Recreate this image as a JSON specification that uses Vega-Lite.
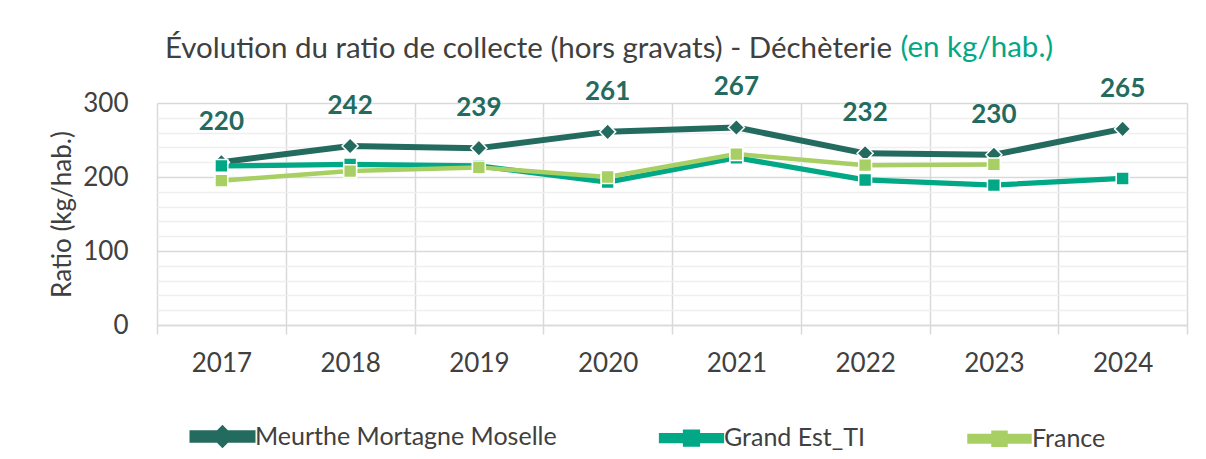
{
  "$schema": "https://vega.github.io/schema/vega-lite/v6.json",
  "autosize": "none",
  "padding": {"left": 157, "top": 103, "right": 19, "bottom": 134},
  "width": 1030,
  "height": 222,
  "background": "white",
  "config": {"view": {"stroke": null}, "font": "Lato"},
  "title": {
    "text": "Évolution du ratio de collecte (hors gravats) - Déchèterie",
    "anchor": "end",
    "frame": "group",
    "dx": -295,
    "offset": -46,
    "baseline": "middle",
    "font": "Lato",
    "fontSize": 29.5,
    "fontWeight": "normal",
    "color": "#404040"
  },
  "data": {
    "values": [
      {"year": "2017", "series": "Meurthe Mortagne Moselle", "value": 220},
      {"year": "2018", "series": "Meurthe Mortagne Moselle", "value": 242},
      {"year": "2019", "series": "Meurthe Mortagne Moselle", "value": 239},
      {"year": "2020", "series": "Meurthe Mortagne Moselle", "value": 261},
      {"year": "2021", "series": "Meurthe Mortagne Moselle", "value": 267},
      {"year": "2022", "series": "Meurthe Mortagne Moselle", "value": 232},
      {"year": "2023", "series": "Meurthe Mortagne Moselle", "value": 230},
      {"year": "2024", "series": "Meurthe Mortagne Moselle", "value": 265},
      {"year": "2017", "series": "Grand Est_TI", "value": 215},
      {"year": "2018", "series": "Grand Est_TI", "value": 217},
      {"year": "2019", "series": "Grand Est_TI", "value": 215},
      {"year": "2020", "series": "Grand Est_TI", "value": 193},
      {"year": "2021", "series": "Grand Est_TI", "value": 226},
      {"year": "2022", "series": "Grand Est_TI", "value": 196},
      {"year": "2023", "series": "Grand Est_TI", "value": 189},
      {"year": "2024", "series": "Grand Est_TI", "value": 198},
      {"year": "2017", "series": "France", "value": 195},
      {"year": "2018", "series": "France", "value": 208},
      {"year": "2019", "series": "France", "value": 213},
      {"year": "2020", "series": "France", "value": 200},
      {"year": "2021", "series": "France", "value": 231},
      {"year": "2022", "series": "France", "value": 216},
      {"year": "2023", "series": "France", "value": 217}
    ]
  },
  "resolve": {"axis": {"x": "independent"}},
  "encoding": {
    "y": {
      "field": "value", "type": "quantitative",
      "scale": {"domain": [0, 300], "nice": false, "zero": true},
      "axis": {
        "title": "Ratio (kg/hab.)", "titleFont": "Lato", "titleFontSize": 26, "titleFontWeight": "normal", "titleColor": "#404040", "titlePadding": 7,
        "values": [0, 20, 40, 60, 80, 100, 120, 140, 160, 180, 200, 220, 240, 260, 280, 300],
        "labelExpr": "datum.value % 100 === 0 ? datum.label : ''",
        "labelFont": "Lato", "labelFontSize": 26, "labelColor": "#404040", "labelPadding": 29,
        "ticks": false, "domain": false,
        "grid": true, "gridWidth": 1.5,
        "gridColor": {"condition": {"test": "datum.value % 100 === 0", "value": "#d9d9d9"}, "value": "#efefef"}
      }
    }
  },
  "layer": [
    {
      "mark": {"type": "line", "strokeCap": "butt", "strokeJoin": "round"},
      "encoding": {
        "x": {
          "field": "year", "type": "ordinal",
          "scale": {"type": "band", "paddingInner": 0, "paddingOuter": 0},
          "axis": {
            "title": null, "labelAngle": 0, "labelFont": "Lato", "labelFontSize": 26, "labelColor": "#404040",
            "tickBand": "extent", "grid": true, "gridColor": "#d9d9d9", "gridWidth": 1.5,
            "domainColor": "#d9d9d9", "domainWidth": 1.5, "tickColor": "#d9d9d9", "tickWidth": 1.5, "tickSize": 9,
            "labelPadding": 16
          }
        },
        "color": {
          "field": "series", "type": "nominal",
          "scale": {"domain": ["Meurthe Mortagne Moselle", "Grand Est_TI", "France"], "range": ["#236B5F", "#00A886", "#A8CF63"]}
        },
        "strokeWidth": {
          "field": "series", "type": "nominal",
          "scale": {"domain": ["Meurthe Mortagne Moselle", "Grand Est_TI", "France"], "range": [6, 4.5, 5]},
          "legend": null
        }
      }
    },
    {
      "transform": [{"filter": "datum.series === 'Meurthe Mortagne Moselle'"}],
      "mark": {"type": "point", "shape": "diamond", "size": 260, "filled": true, "opacity": 1, "stroke": "white", "strokeWidth": 1.5},
      "encoding": {
        "x": {"field": "year", "type": "ordinal", "scale": {"type": "band", "paddingInner": 0, "paddingOuter": 0}, "axis": null},
        "color": {"field": "series", "type": "nominal"}
      }
    },
    {
      "transform": [{"filter": "datum.series !== 'Meurthe Mortagne Moselle'"}],
      "mark": {"type": "point", "shape": "square", "size": 165, "filled": true, "opacity": 1, "stroke": "white", "strokeWidth": 1.5},
      "encoding": {
        "x": {"field": "year", "type": "ordinal", "scale": {"type": "band", "paddingInner": 0, "paddingOuter": 0}, "axis": null},
        "color": {"field": "series", "type": "nominal"}
      }
    },
    {
      "mark": {"type": "point", "filled": true, "opacity": 0, "size": 100},
      "encoding": {
        "x": {"field": "year", "type": "ordinal", "scale": {"type": "band", "paddingInner": 0, "paddingOuter": 0}, "axis": null},
        "color": {
          "field": "series", "type": "nominal",
          "legend": {
            "title": null, "orient": "none", "direction": "horizontal", "legendX": 28, "legendY": 321,
            "labelFont": "Lato", "labelFontSize": 25, "labelColor": "#404040", "labelLimit": 0,
            "symbolSize": 100, "symbolStrokeWidth": 0, "symbolOpacity": 1, "labelOffset": 45, "columnPadding": 94
          }
        },
        "shape": {
          "field": "series", "type": "nominal",
          "scale": {
            "domain": ["Meurthe Mortagne Moselle", "Grand Est_TI", "France"],
            "range": [
              "M-1,-0.65L3.85,-0.65L3.2,0L3.85,0.65L-1,0.65Z M5,-1.5L6.5,0L5,1.5L3.5,0Z M11,-0.65L6.15,-0.65L6.8,0L6.15,0.65L11,0.65Z",
              "M-1,-0.5L3.5,-0.5L3.5,0.5L-1,0.5Z M3.8,-1.2L6.2,-1.2L6.2,1.2L3.8,1.2Z M6.5,-0.5L11,-0.5L11,0.5L6.5,0.5Z",
              "M-1,-0.55L3.5,-0.55L3.5,0.55L-1,0.55Z M3.8,-1.2L6.2,-1.2L6.2,1.2L3.8,1.2Z M6.5,-0.55L11,-0.55L11,0.55L6.5,0.55Z"
            ]
          },
          "legend": {
            "title": null, "orient": "none", "direction": "horizontal", "legendX": 28, "legendY": 321,
            "labelFont": "Lato", "labelFontSize": 25, "labelColor": "#404040", "labelLimit": 0,
            "symbolSize": 100, "symbolStrokeWidth": 0, "symbolOpacity": 1, "labelOffset": 45, "columnPadding": 94
          }
        }
      }
    },
    {
      "transform": [{"filter": "datum.series === 'Meurthe Mortagne Moselle'"}],
      "mark": {"type": "text", "dy": -40, "baseline": "middle", "align": "center", "font": "Lato", "fontSize": 26, "fontWeight": "bold", "color": "#236B5F"},
      "encoding": {
        "x": {
          "field": "year", "type": "ordinal",
          "scale": {"type": "band", "paddingInner": 0, "paddingOuter": 0},
          "axis": {
            "orient": "top", "labels": false, "ticks": false, "domain": false, "grid": false,
            "title": "(en kg/hab.)", "titleColor": "#00A886", "titleFont": "Lato", "titleFontSize": 29.5, "titleFontWeight": "normal",
            "titleX": 743, "titleY": -56, "titleAlign": "left", "titleBaseline": "middle", "titleAnchor": "start"
          }
        },
        "text": {"field": "value", "type": "quantitative"}
      }
    }
  ]
}
